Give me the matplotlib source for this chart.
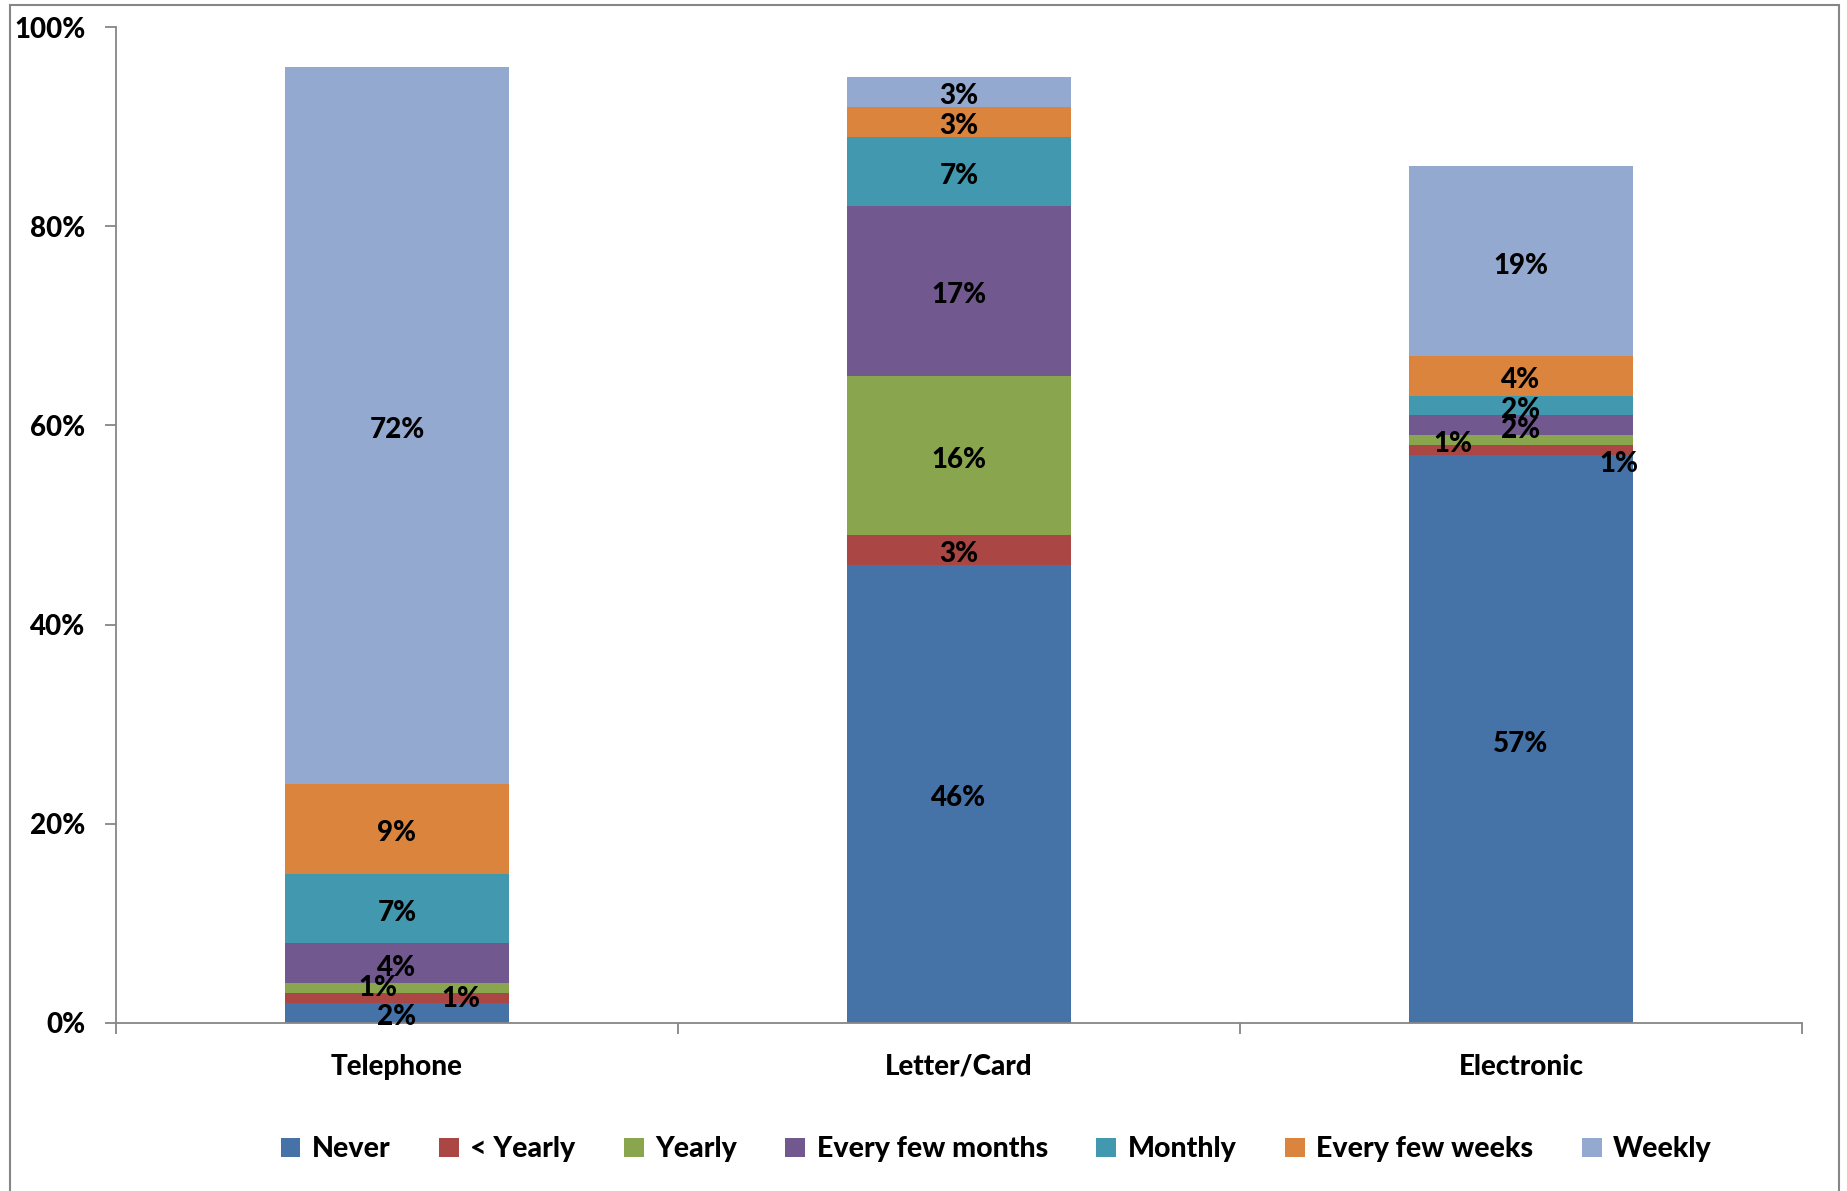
import numpy as np
import matplotlib
matplotlib.use("Agg")
import matplotlib.pyplot as plt
from matplotlib.patches import Rectangle

# data
categories = ["Telephone", "Letter/Card", "Electronic"]
series = ["Never", "< Yearly", "Yearly", "Every few months", "Monthly", "Every few weeks", "Weekly"]
never = [2, 46, 57]
lt_yearly = [1, 3, 1]
yearly = [1, 16, 1]
few_months = [4, 17, 2]
monthly = [7, 7, 2]
few_weeks = [9, 3, 4]
weekly = [72, 3, 19]
values = [never, lt_yearly, yearly, few_months, monthly, few_weeks, weekly]
yticks = [0, 20, 40, 60, 80, 100]

colors = ["#4572A7", "#AA4643", "#89A54E", "#71588F", "#4198AF", "#DB843D", "#93A9CF"]
# label nudges (series index, category index) -> (dx, dy)
nudge = {(1, 0): (0.114, 0.4), (2, 0): (-0.034, 0.5), (0, 0): (0, 0),
         (1, 2): (0.174, -0.9), (2, 2): (-0.121, 0.1)}

W = 900
plt.rcParams['font.family'] = ['Lato', 'DejaVu Sans']
plt.rcParams['font.weight'] = W

fig = plt.figure(figsize=(18.47, 11.91), dpi=100)
ax = fig.add_axes([0.0628, 0.1411, 0.9128, 0.8362])
fig.patches.append(Rectangle((10 / 1847, -0.01), 1829 / 1847, 1 - 5 / 1191 + 0.01,
                             transform=fig.transFigure, fill=False,
                             edgecolor="#868686", linewidth=1.5))

x = np.arange(len(categories))
bottom = np.zeros(len(categories))
for i, (name, vals) in enumerate(zip(series, values)):
    vals = np.array(vals, dtype=float)
    ax.bar(x, vals, 0.4, bottom=bottom, color=colors[i], label=name, zorder=2)
    for j in range(len(categories)):
        dx, dy = nudge.get((i, j), (0, 0))
        ax.text(x[j] + dx, bottom[j] + vals[j] / 2 + dy - 0.45, f"{int(vals[j])}%",
                ha="center", va="center", fontsize=20, fontweight=W, color="black", zorder=3)
    bottom += vals

ax.set_xlim(-0.5, 2.5)
ax.set_ylim(0, 100)
ax.set_yticks(yticks)
ax.set_yticklabels([f"{v}%" for v in yticks], fontsize=20, fontweight=W)
ax.set_xticks([-0.5, 0.5, 1.5, 2.5])
ax.set_xticklabels([])
ax.set_xticks(x, minor=True)
ax.set_xticklabels(categories, minor=True, fontsize=20, fontweight=W)
ax.tick_params(axis="x", which="minor", length=0, pad=22)
ax.tick_params(axis="x", which="major", length=8, width=1.3, color="#868686")
ax.tick_params(axis="y", length=8, width=1.3, color="#868686", pad=14)
for s in ["top", "right"]:
    ax.spines[s].set_visible(False)
for s in ["left", "bottom"]:
    ax.spines[s].set_color("#868686")
    ax.spines[s].set_linewidth(1.3)

ax.legend(loc="center", bbox_to_anchor=(0.522, -0.127), ncol=7, frameon=False,
          handlelength=0.7, handleheight=0.7, handletextpad=0.4,
          columnspacing=1.7, prop={"weight": W, "size": 20.5})

fig.savefig("out.png", dpi=100)
